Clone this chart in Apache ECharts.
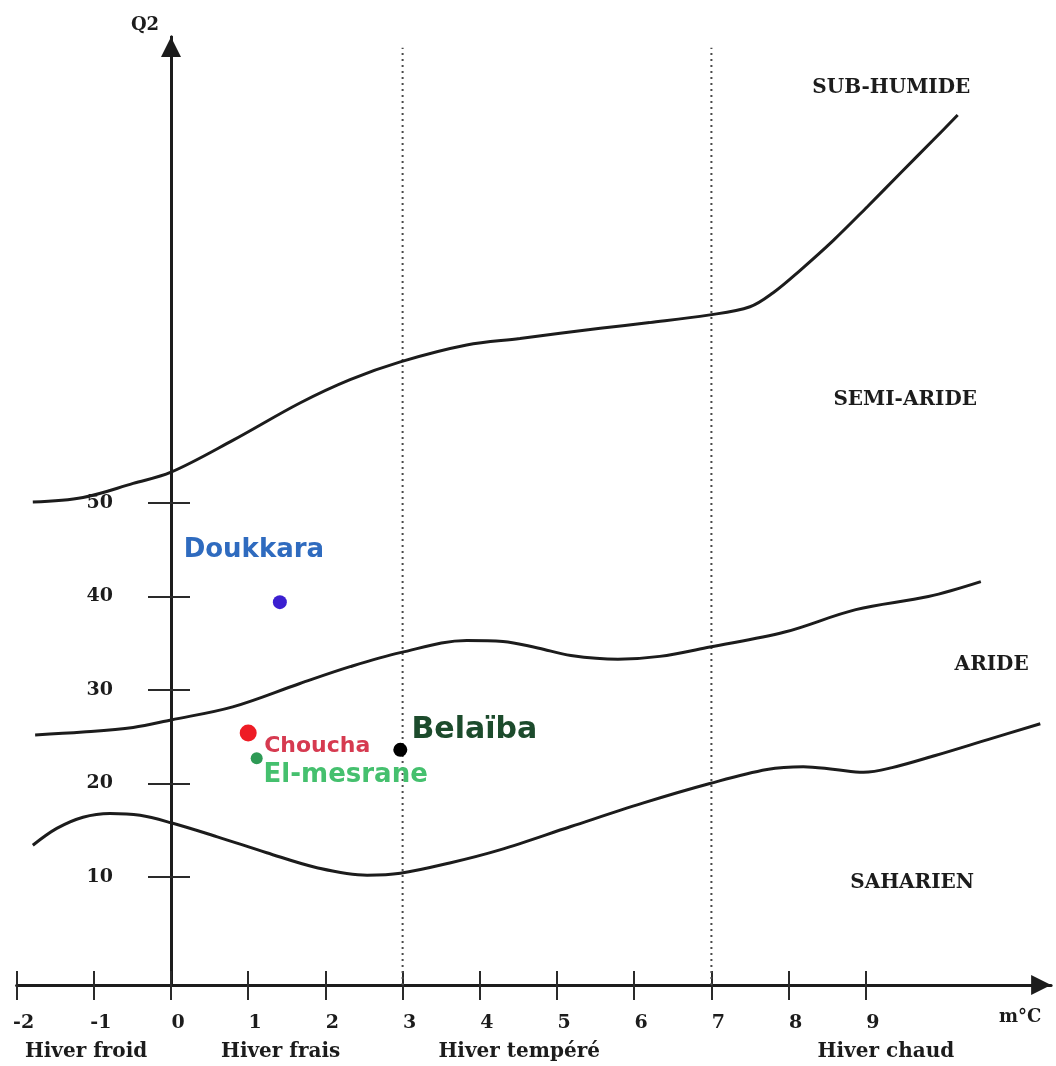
<!DOCTYPE html>
<html>
<head>
<meta charset="utf-8">
<script src="https://cdn.jsdelivr.net/npm/echarts@6/dist/echarts.min.js"></script>
<style>
  html, body { margin: 0; padding: 0; background: #fff; }
  #chart { width: 1056px; height: 1066px; }
</style>
</head>
<body>
<div id="chart"></div>
<script>
// Climagramme d'Emberger : m (°C) en abscisse, Q2 en ordonnée
const mTicks = [-2, -1, 0, 1, 2, 3, 4, 5, 6, 7, 8, 9];
const q2Ticks = [10, 20, 30, 40, 50];
const winterNames = ['Hiver froid', 'Hiver frais', 'Hiver tempéré', 'Hiver chaud'];
const winterLabelAt = [-1.1, 1.42, 4.51, 9.26];
const winterBounds = [3, 7];

// Limites entre étages bioclimatiques [m, Q2]
const limitSubHumide = [
  [-1.79, 50.1], [-1.14, 50.6], [-0.49, 52.1], [0, 53.3], [0.8, 56.7], [1.67, 60.7],
  [2.32, 63.2], [2.97, 65.1], [3.83, 66.9], [4.52, 67.6], [5.56, 68.7], [6.2, 69.3],
  [6.96, 70.1], [7.5, 71.0], [7.8, 72.5], [8.15, 74.9], [8.58, 78.1], [9.02, 81.7],
  [9.45, 85.3], [9.87, 88.8], [10.19, 91.5]
];
const limitSemiAride = [
  [-1.76, 25.2], [-1.14, 25.5], [-0.49, 26.0], [0, 26.8], [0.8, 28.2], [1.67, 30.7],
  [2.32, 32.5], [2.97, 34.0], [3.83, 35.3], [4.3, 35.2], [4.75, 34.5], [5.18, 33.7],
  [5.79, 33.3], [6.33, 33.6], [6.98, 34.6], [7.95, 36.2], [8.87, 38.6], [9.81, 40.0],
  [10.49, 41.6]
];
const limitAride = [
  [-1.79, 13.4], [-1.48, 15.2], [-1.14, 16.4], [-0.79, 16.8], [-0.4, 16.6], [0, 15.8],
  [0.6, 14.3], [1.24, 12.6], [1.89, 11.0], [2.54, 10.2], [2.97, 10.4], [3.61, 11.5],
  [4.26, 12.9], [5.18, 15.4], [6.11, 17.9], [6.98, 20.0], [7.72, 21.5], [8.19, 21.8],
  [8.6, 21.5], [8.97, 21.2], [9.34, 21.7], [9.9, 23.0], [10.58, 24.7], [11.26, 26.4]
];

// Stations
const stationNames = ['Doukkara', 'Choucha', 'El-mesrane', 'Belaïba'];
const stationM = [1.41, 1.0, 1.11, 2.97];
const stationQ2 = [39.4, 25.4, 22.7, 23.6];

// Étages
const zoneNames = ['SUB-HUMIDE', 'SEMI-ARIDE', 'ARIDE', 'SAHARIEN'];
const zoneM = [9.33, 9.51, 10.63, 9.6];
const zoneQ2 = [94.4, 61.0, 32.7, 9.4];

const xMin = -2, xMax = 11.4;
const yMin = -1.55, yMax = 99.85;
const dottedTop = 98.7;

const W = 1056;
const gridLeft = 16.6, gridRight = 4.9;
const gridWidth = W - gridLeft - gridRight;
// the Q2 axis stands at m = 0
const yAxisOffset = -(0 - xMin) / (xMax - xMin) * gridWidth;

const serif = 'DejaVu Serif';
const sans = 'DejaVu Sans';
const ink = '#1c1c1c';

const stationStyle = [
  { dot: '#3b1fd0', text: '#2f6bbf', size: 14, font: 26, offset: [-26, -52] },
  { dot: '#ee1c25', text: '#d63a50', size: 17, font: 22, offset: [69, 13] },
  { dot: '#2e9a55', text: '#45c06e', size: 12, font: 26, offset: [89, 17] },
  { dot: '#000000', text: '#1c4b2c', size: 14, font: 30, offset: [74, -20] }
];

const arrow = 'path://M5,0 L10,10 L0,10 Z';

function curve(name, data) {
  return {
    name: name, type: 'line', data: data, smooth: 0.35, showSymbol: false,
    lineStyle: { color: ink, width: 3 }, silent: true, z: 3
  };
}

const series = [
  curve('Sub-humide / Semi-aride', limitSubHumide),
  curve('Semi-aride / Aride', limitSemiAride),
  curve('Aride / Saharien', limitAride)
];

winterBounds.forEach(function (m) {
  series.push({
    type: 'line', data: [[m, yMin], [m, dottedTop]], showSymbol: false, silent: true,
    lineStyle: { color: '#4a4a4a', width: 2, type: [2, 4] }, z: 2
  });
});

stationNames.forEach(function (name, i) {
  const st = stationStyle[i];
  series.push({
    name: name, type: 'scatter', symbol: 'circle', symbolSize: st.size,
    itemStyle: { color: st.dot, opacity: 1 }, z: 5,
    data: [{ value: [stationM[i], stationQ2[i]], name: name }],
    label: {
      show: true, formatter: '{b}', position: 'inside', offset: st.offset, opacity: 1,
      color: st.text, fontFamily: sans, fontWeight: 'bold', fontSize: st.font
    }
  });
});

series.push({
  type: 'scatter', symbolSize: 0, silent: true, z: 4,
  itemStyle: { opacity: 1 },
  data: zoneNames.map(function (n, i) { return { value: [zoneM[i], zoneQ2[i]], name: n }; }),
  label: {
    show: true, formatter: '{b}', position: 'inside', opacity: 1,
    color: ink, fontFamily: serif, fontWeight: 'bold', fontSize: 20
  }
});

const axisLineStyle = { color: ink, width: 3 };
const tickStyle = { color: '#2a2a2a', width: 2 };

const option = {
  animation: false,
  backgroundColor: '#ffffff',
  grid: { left: gridLeft, right: gridRight, top: 37, bottom: 81, containLabel: false, outerBoundsMode: 'none' },
  xAxis: [
    {
      type: 'value', position: 'bottom', min: xMin, max: xMax,
      axisLine: { show: true, onZero: false, lineStyle: axisLineStyle,
        symbol: ['none', arrow], symbolSize: [20, 20], symbolOffset: [0, -10] },
      axisTick: { show: true, length: 15, lineStyle: tickStyle, customValues: mTicks },
      axisLabel: { show: true, customValues: mTicks, margin: 29, padding: [0, 0, 0, 14],
        color: ink, fontFamily: serif, fontWeight: 'bold', fontSize: 19 },
      splitLine: { show: false }
    },
    {
      type: 'value', position: 'bottom', min: xMin, max: xMax,
      axisLine: { show: false, onZero: false },
      axisTick: { show: true, inside: true, length: 14, lineStyle: tickStyle, customValues: mTicks },
      axisLabel: { show: false },
      splitLine: { show: false }
    },
    {
      type: 'value', position: 'bottom', min: xMin, max: xMax,
      axisLine: { show: false, onZero: false },
      axisTick: { show: false },
      axisLabel: {
        show: true, customValues: winterLabelAt, margin: 57,
        color: ink, fontFamily: serif, fontWeight: 'bold', fontSize: 20,
        formatter: function (v) {
          let best = 0;
          winterLabelAt.forEach(function (w, i) {
            if (Math.abs(w - v) < Math.abs(winterLabelAt[best] - v)) best = i;
          });
          return winterNames[best];
        }
      },
      splitLine: { show: false }
    },
    {
      // unité de l'abscisse, sous la flèche
      type: 'value', position: 'bottom', offset: 32, min: xMin, max: xMax,
      name: 'm°C', nameLocation: 'end', nameGap: -31,
      nameTextStyle: { color: ink, fontFamily: serif, fontWeight: 'bold', fontSize: 18,
        align: 'center', verticalAlign: 'middle' },
      axisLine: { show: false, onZero: false },
      axisTick: { show: false },
      axisLabel: { show: false },
      splitLine: { show: false }
    }
  ],
  yAxis: [
    {
      type: 'value', position: 'left', offset: yAxisOffset, min: yMin, max: yMax,
      name: 'Q2', nameLocation: 'end', nameGap: 12,
      nameTextStyle: { color: ink, fontFamily: serif, fontWeight: 'bold', fontSize: 18,
        align: 'center', verticalAlign: 'middle', padding: [0, 52, 0, 0] },
      axisLine: { show: true, onZero: false, lineStyle: axisLineStyle,
        symbol: ['none', arrow], symbolSize: [24, 20], symbolOffset: [0, -10] },
      axisTick: { show: true, length: 23, lineStyle: tickStyle, customValues: q2Ticks },
      axisLabel: { show: true, customValues: q2Ticks, margin: 58,
        color: ink, fontFamily: serif, fontWeight: 'bold', fontSize: 19 },
      splitLine: { show: false }
    },
    {
      type: 'value', position: 'left', offset: yAxisOffset, min: yMin, max: yMax,
      axisLine: { show: true, onZero: false, lineStyle: axisLineStyle },
      axisTick: { show: true, inside: true, length: 19, lineStyle: tickStyle, customValues: q2Ticks },
      axisLabel: { show: false },
      splitLine: { show: false }
    }
  ],
  series: series
};

const chart = echarts.init(document.getElementById('chart'), null, { renderer: 'canvas' });
chart.setOption(option);
</script>
</body>
</html>
